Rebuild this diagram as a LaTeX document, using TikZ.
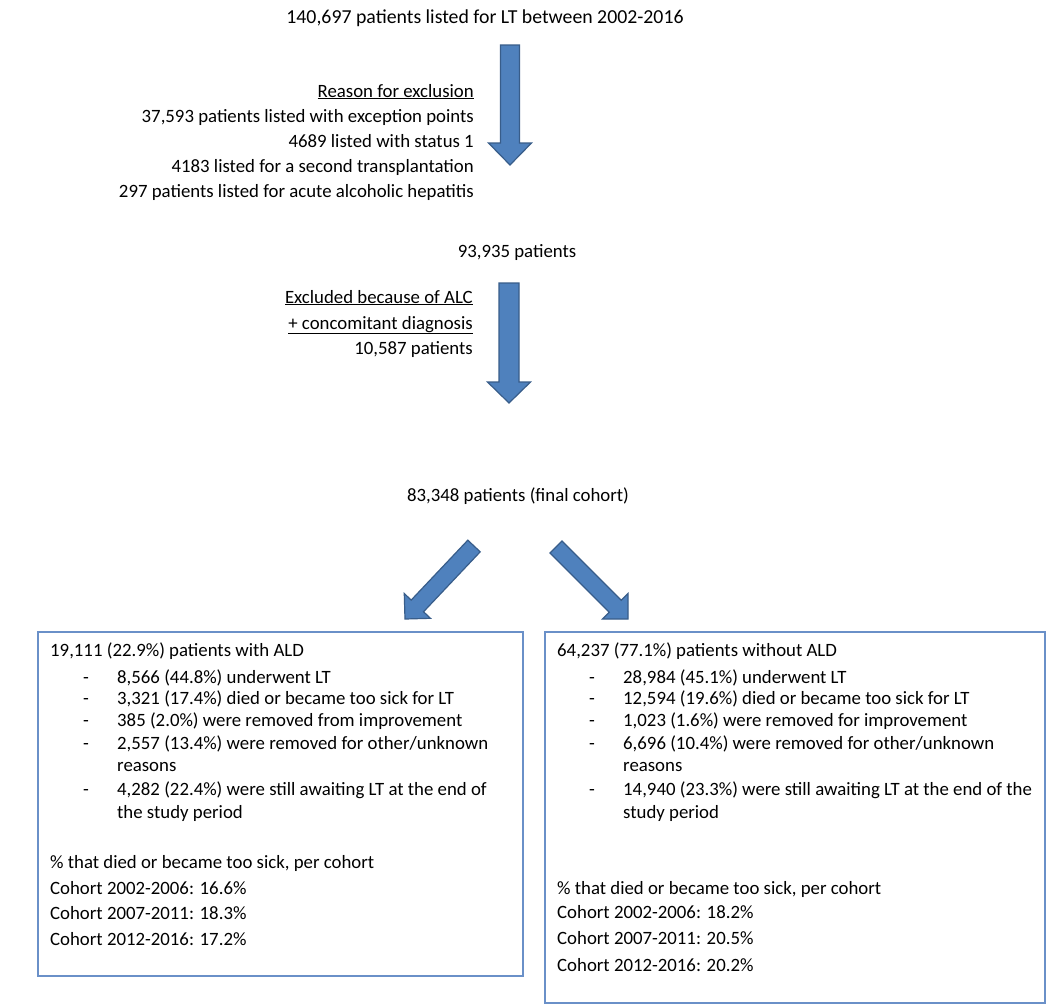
\documentclass[tikz,border=0pt]{standalone}
\usepackage{fontspec}
\setmainfont{Carlito}
\usetikzlibrary{calc}
\definecolor{arrowfill}{HTML}{4F81BD}
\definecolor{arrowline}{HTML}{385D8A}
\definecolor{boxline}{HTML}{6A90C8}
\tikzset{
  txt/.style={inner sep=0pt, font=\fontsize{18.8}{22.5}\selectfont, text=black},
  lt/.style={txt, anchor=base west},
  rt/.style={txt, anchor=base east},
  ct/.style={txt, anchor=base},
  panel/.style={draw=boxline, line width=1.4pt},
  blockarrow/.style={fill=arrowfill, draw=arrowline, line width=1.2pt, line join=miter}
}
% #1 tail, #2 tip, #3 shaft half width, #4 head half width, #5 head length
\newcommand\myblockarrow[5]{%
  \draw[blockarrow]
    ($(#1)!#3!90:(#2)$) --
    ($($(#2)!#5!(#1)$)!#3!-90:(#1)$) --
    ($($(#2)!#5!(#1)$)!#4!-90:(#1)$) --
    (#2) --
    ($($(#2)!#5!(#1)$)!#4!90:(#1)$) --
    ($($(#2)!#5!(#1)$)!#3!90:(#1)$) --
    ($(#1)!#3!-90:(#2)$) -- cycle;}
\begin{document}
\begin{tikzpicture}[x=1pt,y=-1pt]
\fill[white] (0,0) rectangle (1050,1007);
\useasboundingbox (0,0) rectangle (1050,1007);

% top part
\node[ct, font=\fontsize{19.8}{24}\selectfont] (title) at (485,23) {140,697 patients listed for LT between 2002-2016};
\node[rt] (ex0) at (474,97) {\underline{Reason for exclusion}};
\node[rt] (ex1) at (474,122) {37,593 patients listed with exception points};
\node[rt] (ex2) at (474,147) {4689 listed with status 1};
\node[rt] (ex3) at (474,172) {4183 listed for a second transplantation};
\node[rt] (ex4) at (474,197) {297 patients listed for acute alcoholic hepatitis};

\node[ct] (n2) at (517,257) {93,935 patients};
\node[rt] (ey1) at (473,303) {\underline{Excluded because of ALC}};
\node[rt] (ey2) at (473,329) {\underline{+ concomitant diagnosis}};
\node[rt] (ey3) at (473,354) {10,587 patients};

\node[ct] (n3) at (518,501) {83,348 patients (final cohort)};

% arrows
\coordinate (a1s) at (510,45);  \coordinate (a1e) at (510,165);
\coordinate (a2s) at (509,283); \coordinate (a2e) at (509,403);
\coordinate (a3s) at (474,546); \coordinate (a3e) at (405,619);
\coordinate (a4s) at (556,547); \coordinate (a4e) at (628,619);
\myblockarrow{a1s}{a1e}{9.5pt}{21.5pt}{22pt}
\myblockarrow{a2s}{a2e}{10pt}{21.5pt}{21pt}
\myblockarrow{a3s}{a3e}{8.5pt}{18pt}{18pt}
\myblockarrow{a4s}{a4e}{8.5pt}{18pt}{18pt}

% left box
\draw[panel] (38,632) rectangle (523,976);
\node[lt] (l0) at (50,656) {19,111 (22.9\%) patients with ALD};
\node[lt] (ld1) at (83,683) {-};
\node[lt] (l1) at (117,683) {8,566 (44.8\%) underwent LT};
\node[lt] (ld2) at (83,704) {-};
\node[lt] (l2) at (117,704) {3,321 (17.4\%) died or became too sick for LT};
\node[lt] (ld3) at (83,726) {-};
\node[lt] (l3) at (117,726) {385 (2.0\%) were removed from improvement};
\node[lt] (ld4) at (83,749) {-};
\node[lt] (l4) at (117,749) {2,557 (13.4\%) were removed for other/unknown};
\node[lt] (l4b) at (117,771) {reasons};
\node[lt] (ld5) at (83,795) {-};
\node[lt] (l5) at (117,795) {4,282 (22.4\%) were still awaiting LT at the end of};
\node[lt] (l5b) at (117,818) {the study period};
\node[lt] (lc0) at (50,868) {\% that died or became too sick, per cohort};
\node[lt] (lc1) at (50,894) {Cohort 2002-2006: 16.6\%};
\node[lt] (lc2) at (50,919) {Cohort 2007-2011: 18.3\%};
\node[lt] (lc3) at (50,945) {Cohort 2012-2016: 17.2\%};

% right box
\draw[panel] (545,632) rectangle (1045,1003);
\node[lt] (r0) at (557,656) {64,237 (77.1\%) patients without ALD};
\node[lt] (rd1) at (589,683) {-};
\node[lt] (r1) at (623,683) {28,984 (45.1\%) underwent LT};
\node[lt] (rd2) at (589,704) {-};
\node[lt] (r2) at (623,704) {12,594 (19.6\%) died or became too sick for LT};
\node[lt] (rd3) at (589,726) {-};
\node[lt] (r3) at (623,726) {1,023 (1.6\%) were removed for improvement};
\node[lt] (rd4) at (589,749) {-};
\node[lt] (r4) at (623,749) {6,696 (10.4\%) were removed for other/unknown};
\node[lt] (r4b) at (623,771) {reasons};
\node[lt] (rd5) at (589,795) {-};
\node[lt] (r5) at (623,795) {14,940 (23.3\%) were still awaiting LT at the end of the};
\node[lt] (r5b) at (623,818) {study period};
\node[lt] (rc0) at (557,894) {\% that died or became too sick, per cohort};
\node[lt] (rc1) at (557,918) {Cohort 2002-2006: 18.2\%};
\node[lt] (rc2) at (557,944) {Cohort 2007-2011: 20.5\%};
\node[lt] (rc3) at (557,971) {Cohort 2012-2016: 20.2\%};
\end{tikzpicture}
\end{document}
